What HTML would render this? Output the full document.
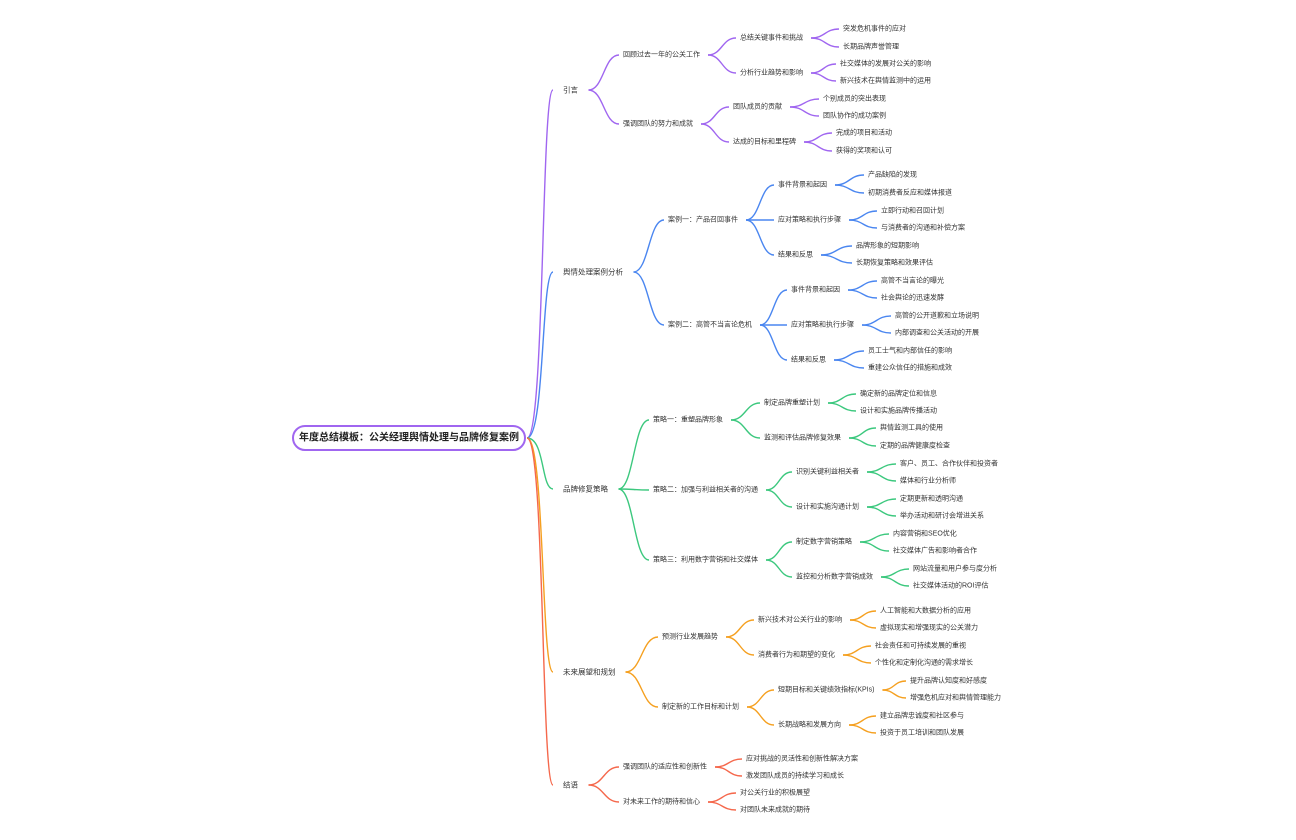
<!DOCTYPE html>
<html><head><meta charset="utf-8">
<style>
html,body{margin:0;padding:0;background:#fff;}
svg{display:block;}
text{font-family:"Liberation Sans","Noto Sans CJK SC",sans-serif;font-size:7px;fill:#333;dominant-baseline:central;}
.l1{font-size:7.5px;}
.root{font-size:10px;font-weight:bold;fill:#222;}
</style></head><body>
<svg id="s" width="1296" height="840" viewBox="0 0 1296 840">
<g id="edges" fill="none" stroke-width="1.4"></g>
<rect x="293" y="426" width="232" height="24" rx="12" fill="#fff" stroke="#a066f0" stroke-width="2"/>
<text class="root" x="409" y="438" text-anchor="middle">年度总结模板：公关经理舆情处理与品牌修复案例</text>
<g id="t">
<text class="l1" id="a" x="563" y="90">引言</text>
<text id="a1" x="623" y="55">回顾过去一年的公关工作</text>
<text id="a2" x="623" y="124">强调团队的努力和成就</text>
<text id="a11" x="740" y="38">总结关键事件和挑战</text>
<text id="a12" x="740" y="73">分析行业趋势和影响</text>
<text id="a21" x="733" y="107">团队成员的贡献</text>
<text id="a22" x="733" y="142">达成的目标和里程碑</text>
<text id="a111" x="843" y="29">突发危机事件的应对</text>
<text id="a112" x="843" y="47">长期品牌声誉管理</text>
<text id="a121" x="840" y="64">社交媒体的发展对公关的影响</text>
<text id="a122" x="840" y="81">新兴技术在舆情监测中的运用</text>
<text id="a211" x="823" y="99">个别成员的突出表现</text>
<text id="a212" x="823" y="116">团队协作的成功案例</text>
<text id="a221" x="836" y="133">完成的项目和活动</text>
<text id="a222" x="836" y="151">获得的奖项和认可</text>

<text class="l1" id="b" x="563" y="272">舆情处理案例分析</text>
<text id="b1" x="668" y="220">案例一：产品召回事件</text>
<text id="b2" x="668" y="325">案例二：高管不当言论危机</text>
<text id="b11" x="778" y="185">事件背景和起因</text>
<text id="b12" x="778" y="220">应对策略和执行步骤</text>
<text id="b13" x="778" y="255">结果和反思</text>
<text id="b21" x="791" y="290">事件背景和起因</text>
<text id="b22" x="791" y="325">应对策略和执行步骤</text>
<text id="b23" x="791" y="360">结果和反思</text>
<text id="b111" x="868" y="175">产品缺陷的发现</text>
<text id="b112" x="868" y="193">初期消费者反应和媒体报道</text>
<text id="b121" x="881" y="211">立即行动和召回计划</text>
<text id="b122" x="881" y="228">与消费者的沟通和补偿方案</text>
<text id="b131" x="856" y="246">品牌形象的短期影响</text>
<text id="b132" x="856" y="263">长期恢复策略和效果评估</text>
<text id="b211" x="881" y="281">高管不当言论的曝光</text>
<text id="b212" x="881" y="298">社会舆论的迅速发酵</text>
<text id="b221" x="895" y="316">高管的公开道歉和立场说明</text>
<text id="b222" x="895" y="333">内部调查和公关活动的开展</text>
<text id="b231" x="868" y="351">员工士气和内部信任的影响</text>
<text id="b232" x="868" y="368">重建公众信任的措施和成效</text>

<text class="l1" id="c" x="563" y="489">品牌修复策略</text>
<text id="c1" x="653" y="420">策略一：重塑品牌形象</text>
<text id="c2" x="653" y="490">策略二：加强与利益相关者的沟通</text>
<text id="c3" x="653" y="560">策略三：利用数字营销和社交媒体</text>
<text id="c11" x="764" y="403">制定品牌重塑计划</text>
<text id="c12" x="764" y="438">监测和评估品牌修复效果</text>
<text id="c21" x="796" y="472">识别关键利益相关者</text>
<text id="c22" x="796" y="507">设计和实施沟通计划</text>
<text id="c31" x="796" y="542">制定数字营销策略</text>
<text id="c32" x="796" y="577">监控和分析数字营销成效</text>
<text id="c111" x="860" y="394">确定新的品牌定位和信息</text>
<text id="c112" x="860" y="411">设计和实施品牌传播活动</text>
<text id="c121" x="880" y="428">舆情监测工具的使用</text>
<text id="c122" x="880" y="446">定期的品牌健康度检查</text>
<text id="c211" x="900" y="464">客户、员工、合作伙伴和投资者</text>
<text id="c212" x="900" y="481">媒体和行业分析师</text>
<text id="c221" x="900" y="499">定期更新和透明沟通</text>
<text id="c222" x="900" y="516">举办活动和研讨会增进关系</text>
<text id="c311" x="893" y="534">内容营销和SEO优化</text>
<text id="c312" x="893" y="551">社交媒体广告和影响者合作</text>
<text id="c321" x="913" y="569">网站流量和用户参与度分析</text>
<text id="c322" x="913" y="586">社交媒体活动的ROI评估</text>

<text class="l1" id="d" x="563" y="672">未来展望和规划</text>
<text id="d1" x="662" y="637">预测行业发展趋势</text>
<text id="d2" x="662" y="707">制定新的工作目标和计划</text>
<text id="d11" x="758" y="620">新兴技术对公关行业的影响</text>
<text id="d12" x="758" y="655">消费者行为和期望的变化</text>
<text id="d21" x="778" y="690">短期目标和关键绩效指标(KPIs)</text>
<text id="d22" x="778" y="725">长期战略和发展方向</text>
<text id="d111" x="880" y="611">人工智能和大数据分析的应用</text>
<text id="d112" x="880" y="628">虚拟现实和增强现实的公关潜力</text>
<text id="d121" x="875" y="646">社会责任和可持续发展的重视</text>
<text id="d122" x="875" y="663">个性化和定制化沟通的需求增长</text>
<text id="d211" x="910" y="681">提升品牌认知度和好感度</text>
<text id="d212" x="910" y="698">增强危机应对和舆情管理能力</text>
<text id="d221" x="880" y="716">建立品牌忠诚度和社区参与</text>
<text id="d222" x="880" y="733">投资于员工培训和团队发展</text>

<text class="l1" id="e" x="563" y="785">结语</text>
<text id="e1" x="623" y="767">强调团队的适应性和创新性</text>
<text id="e2" x="623" y="802">对未来工作的期待和信心</text>
<text id="e11" x="746" y="759">应对挑战的灵活性和创新性解决方案</text>
<text id="e12" x="746" y="776">激发团队成员的持续学习和成长</text>
<text id="e21" x="740" y="793">对公关行业的积极展望</text>
<text id="e22" x="740" y="810">对团队未来成就的期待</text>
</g>
</svg>
<script>
(function(){
var cols={a:"#a066f0",b:"#4a86f0",c:"#3cc87e",d:"#f5a020",e:"#f5684c"};
var g=document.getElementById("edges");
var ns="http://www.w3.org/2000/svg";
function add(d,c){var p=document.createElementNS(ns,"path");p.setAttribute("d",d);p.setAttribute("stroke",c);g.appendChild(p);}
var ts=document.querySelectorAll("#t text");
var map={};
for(var i=0;i<ts.length;i++){map[ts[i].id]=ts[i];}
for(var id in map){
  var el=map[id];var c=cols[id[0]];
  var x2=+el.getAttribute("x")-(id.length==1?10:4), y2=+el.getAttribute("y");
  var x1,y1;
  if(id.length==1){x1=527;y1=438;
    add("M"+x1+" "+y1+" C"+(x1+18)+" "+y1+" "+(x1+14)+" "+y2+" "+x2+" "+y2,c);
  } else {
    var p=map[id.slice(0,-1)];
    var bb=p.getBBox();x1=bb.x+bb.width+(id.length==2?10:8);y1=+p.getAttribute("y");
    var m=(x2-x1)*0.5;
    add("M"+x1+" "+y1+" C"+(x1+m)+" "+y1+" "+(x2-m)+" "+y2+" "+x2+" "+y2,c);
  }
}
})();
</script>
</body></html>
